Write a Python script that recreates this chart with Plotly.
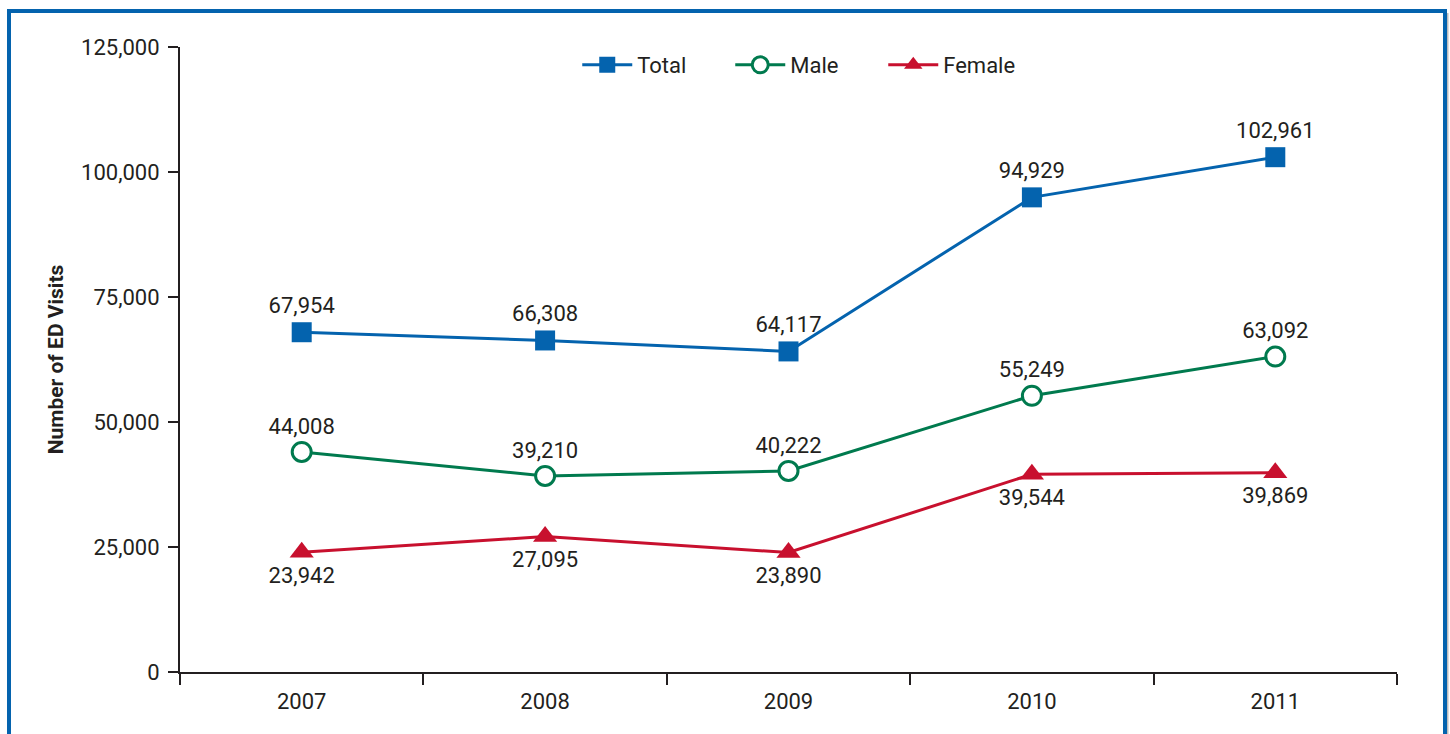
import plotly.graph_objects as go

years = ["2007", "2008", "2009", "2010", "2011"]
total = [67954, 66308, 64117, 94929, 102961]
male = [44008, 39210, 40222, 55249, 63092]
female = [23942, 27095, 23890, 39544, 39869]
y_ticks = [0, 25000, 50000, 75000, 100000, 125000]

BLUE = "#0463AE"
GREEN = "#007A4E"
RED = "#C8102E"
INK = "#231F20"
FONT = "Roboto, Liberation Sans, sans-serif"

W, H = 1450, 734
L, R, T, B = 180, 53, 47, 62
pw, ph = W - L - R, H - T - B

def px_x(x):
    return (x - L) / pw

def px_y(y):
    return (H - B - y) / ph

fig = go.Figure()
fig.add_trace(go.Scatter(
    x=years, y=total, name="Total", mode="lines+markers+text",
    line=dict(color=BLUE, width=3),
    marker=dict(symbol="square", size=20, color=BLUE),
    texttemplate="%{y:,}", textposition="top center",
    textfont=dict(family=FONT, size=22, color=INK), cliponaxis=False))
fig.add_trace(go.Scatter(
    x=years, y=male, name="Male", mode="lines+markers+text",
    line=dict(color=GREEN, width=3),
    marker=dict(symbol="circle", size=19, color="white", line=dict(color=GREEN, width=3)),
    texttemplate="%{y:,}", textposition="top center",
    textfont=dict(family=FONT, size=22, color=INK), cliponaxis=False))
fig.add_trace(go.Scatter(
    x=years, y=female, name="Female", mode="lines+markers+text",
    line=dict(color=RED, width=3),
    marker=dict(symbol="triangle-up", size=21, color=RED),
    texttemplate="%{y:,}", textposition="bottom center",
    textfont=dict(family=FONT, size=22, color=INK), cliponaxis=False))

# frame
fig.add_shape(type="line", xref="paper", yref="paper",
              x0=px_x(1447), x1=px_x(1447), y0=px_y(13), y1=px_y(760),
              line=dict(color="#BBBBBB", width=3), layer="below")
fig.add_shape(type="rect", xref="paper", yref="paper",
              x0=px_x(9), x1=px_x(1445), y0=px_y(11), y1=px_y(760),
              line=dict(color=BLUE, width=4), layer="below")

fig.update_layout(
    width=W, height=H,
    margin=dict(l=L, r=R, t=T, b=B),
    paper_bgcolor="white", plot_bgcolor="white",
    font=dict(family=FONT, size=22, color=INK),
    showlegend=True,
    legend=dict(orientation="h", x=0.515, xanchor="center", y=px_y(65), yanchor="middle",
                font=dict(family=FONT, size=22, color=INK),
                entrywidth=88, itemwidth=50, bgcolor="rgba(0,0,0,0)"),
    xaxis=dict(type="category", range=[-0.5, 4.5], tickson="boundaries",
               ticks="outside", ticklen=11, tickwidth=2, tickcolor=INK,
               showline=True, linecolor=INK, linewidth=2, showgrid=False,
               zeroline=False, ticklabelstandoff=9,
               tickfont=dict(family=FONT, size=22, color=INK)),
    yaxis=dict(range=[0, 125000], tickvals=y_ticks, tickformat=",",
               ticks="outside", ticklen=10, tickwidth=2, tickcolor=INK,
               showline=True, linecolor=INK, linewidth=2, showgrid=False,
               zeroline=False, ticklabelstandoff=4,
               tickfont=dict(family=FONT, size=22, color=INK),
               title=dict(text="<b>Number of ED Visits</b>", standoff=12,
                          font=dict(family=FONT, size=21, color=INK))),
)

fig.write_html("out.html")
